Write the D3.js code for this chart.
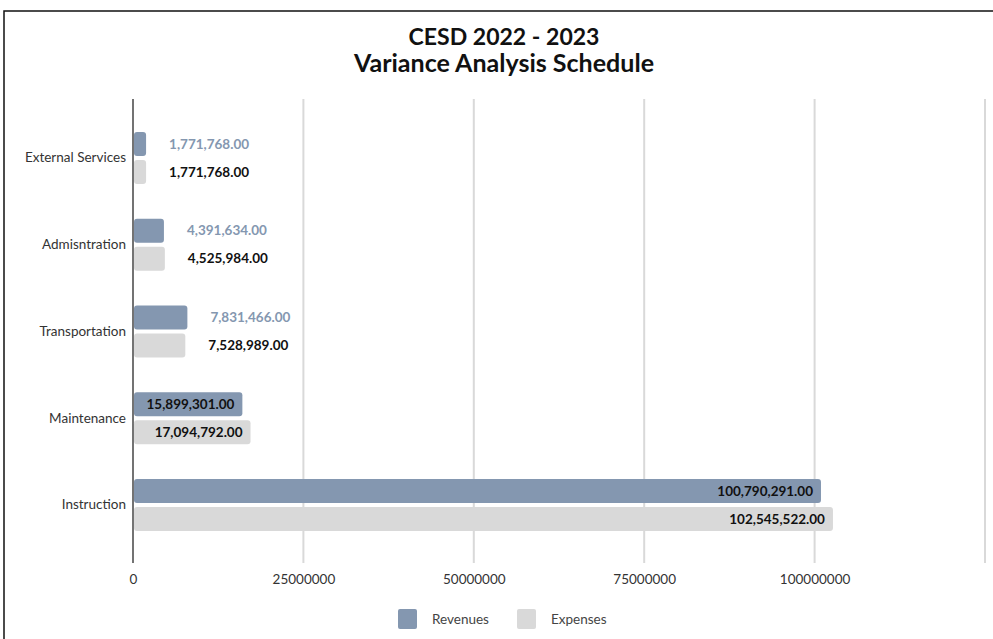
<!DOCTYPE html>
<html><head><meta charset="utf-8">
<script src="https://cdn.jsdelivr.net/npm/d3@7"></script>
<style>body{margin:0;background:#fff}svg{display:block}</style>
</head><body>
<svg id="c" width="993" height="639"></svg>
<script>
const categories = ["External Services","Admisntration","Transportation","Maintenance","Instruction"];
const revenues = [1771768.00, 4391634.00, 7831466.00, 15899301.00, 100790291.00];
const expenses = [1771768.00, 4525984.00, 7528989.00, 17094792.00, 102545522.00];
const seriesNames = ["Revenues","Expenses"];
const tickValues = [0, 25000000, 50000000, 75000000, 100000000, 125000000];
const titleLines = ["CESD 2022 - 2023","Variance Analysis Schedule"];

const colors = ["#8497b0","#d9d9d9"];
const labelColors = ["#8497b0","#111"];
const font = "Lato, 'Open Sans', sans-serif";
const svg = d3.select("#c");

svg.append("rect").attr("x",4).attr("y",11).attr("width",1000).attr("height",640)
  .attr("fill","#fff").attr("stroke","#111").attr("stroke-width",1.5);

titleLines.forEach((t,i)=>{
  svg.append("text").attr("x",504).attr("y",45+i*27).attr("text-anchor","middle")
    .attr("font-family",font).attr("font-weight","bold").attr("font-size",i===0?23:24)
    .attr("fill","#111").attr("textLength", i===0?191:300).attr("lengthAdjust","spacingAndGlyphs").text(t);
});

const x = d3.scaleLinear().domain([0,125000000]).range([133,985]);
const y = d3.scaleBand().domain(categories).range([114.6,548.4]).padding(0);
const sub = d3.scaleBand().domain(seriesNames).range([0,52]).paddingInner(1/7);
const offset = (y.bandwidth()-52)/2;

// grid
svg.append("g").selectAll("line").data(tickValues.slice(1)).join("line")
  .attr("x1",d=>x(d)).attr("x2",d=>x(d)).attr("y1",99).attr("y2",563)
  .attr("stroke","#d9d9d9").attr("stroke-width",2);

// x axis labels
const xAxis = d3.axisBottom(x).tickValues(tickValues.slice(0,5)).tickSize(0).tickPadding(0).tickFormat(d3.format("d"));
const gx = svg.append("g").attr("transform","translate(0,584)").call(xAxis);
gx.select(".domain").remove();
gx.selectAll("text").attr("font-family",font).attr("font-size",13.5).attr("fill","#333").attr("dy","0");

// y axis
const yAxis = d3.axisLeft(y).tickSize(0).tickPadding(7);
const gy = svg.append("g").attr("transform","translate(133,0)").call(yAxis);
gy.select(".domain").remove();
gy.selectAll("text").attr("font-family",font).attr("font-size",13.5).attr("fill","#333");
svg.append("line").attr("x1",133).attr("x2",133).attr("y1",99).attr("y2",563).attr("stroke","#444").attr("stroke-width",1.5);

const rows = categories.map((c,i)=>({c, vals:[revenues[i],expenses[i]]}));
const g = svg.append("g");
rows.forEach(r=>{
  r.vals.forEach((v,j)=>{
    const by = y(r.c)+offset+sub(seriesNames[j]);
    const bw = x(v)-x(0);
    g.append("rect").attr("x",x(0)+1).attr("y",by).attr("width",bw).attr("height",sub.bandwidth())
      .attr("rx",3).attr("fill",colors[j]);
    const inside = bw > 60;
    g.append("text")
      .attr("x", inside ? x(v)-7 : x(v)+24)
      .attr("y", by+sub.bandwidth()/2)
      .attr("dy","0.35em")
      .attr("text-anchor", inside ? "end" : "start")
      .attr("font-family",font).attr("font-weight","bold").attr("font-size",13.5)
      .attr("fill", inside ? "#111" : labelColors[j])
      .text(d3.format(",.2f")(v));
  });
});

// legend
const leg = svg.append("g");
const lx = [398,517];
seriesNames.forEach((s,i)=>{
  leg.append("rect").attr("x",lx[i]).attr("y",609).attr("width",19).attr("height",20).attr("rx",2).attr("fill",colors[i]);
  leg.append("text").attr("x",lx[i]+34).attr("y",619).attr("dy","0.35em")
    .attr("font-family",font).attr("font-size",13.5).attr("fill","#444").text(s);
});
</script>
</body></html>
